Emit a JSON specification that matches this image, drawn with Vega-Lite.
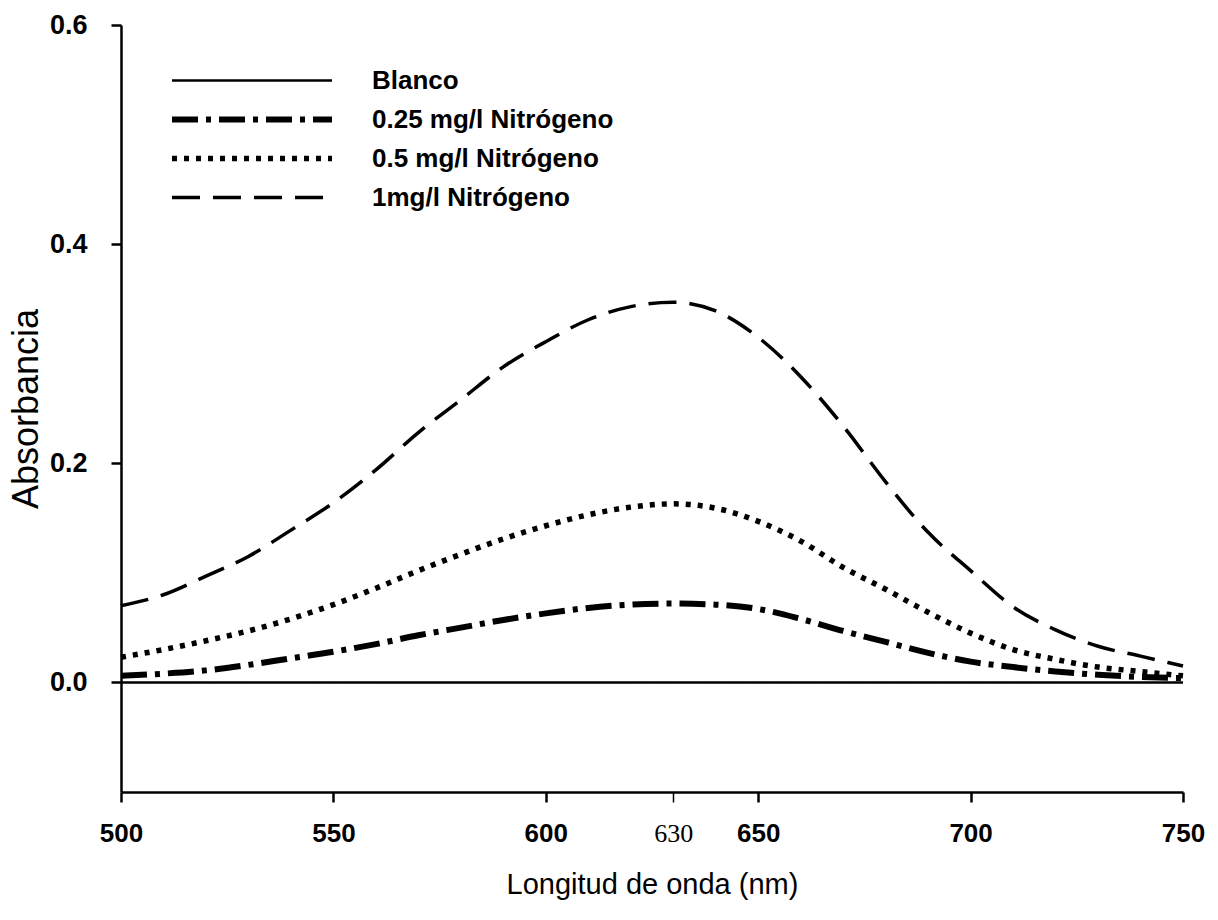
{
  "$schema": "https://vega.github.io/schema/vega-lite/v6.json",
  "width": 1062,
  "height": 767,
  "autosize": {"type": "none"},
  "padding": {"left": 121, "top": 25, "right": 35, "bottom": 128},
  "background": "white",
  "layer": [
    {
      "data": {"values": [
        {"wl": 500, "a": 0, "s": "Blanco"},
        {"wl": 550, "a": 0, "s": "Blanco"},
        {"wl": 600, "a": 0, "s": "Blanco"},
        {"wl": 650, "a": 0, "s": "Blanco"},
        {"wl": 700, "a": 0, "s": "Blanco"},
        {"wl": 750, "a": 0, "s": "Blanco"},
        {"wl": 500, "a": 0.006, "s": "0.25 mg/l Nitrógeno"},
        {"wl": 510, "a": 0.008, "s": "0.25 mg/l Nitrógeno"},
        {"wl": 520, "a": 0.011, "s": "0.25 mg/l Nitrógeno"},
        {"wl": 530, "a": 0.016, "s": "0.25 mg/l Nitrógeno"},
        {"wl": 540, "a": 0.022, "s": "0.25 mg/l Nitrógeno"},
        {"wl": 550, "a": 0.028, "s": "0.25 mg/l Nitrógeno"},
        {"wl": 560, "a": 0.035, "s": "0.25 mg/l Nitrógeno"},
        {"wl": 570, "a": 0.043, "s": "0.25 mg/l Nitrógeno"},
        {"wl": 580, "a": 0.050, "s": "0.25 mg/l Nitrógeno"},
        {"wl": 590, "a": 0.057, "s": "0.25 mg/l Nitrógeno"},
        {"wl": 600, "a": 0.063, "s": "0.25 mg/l Nitrógeno"},
        {"wl": 610, "a": 0.068, "s": "0.25 mg/l Nitrógeno"},
        {"wl": 620, "a": 0.071, "s": "0.25 mg/l Nitrógeno"},
        {"wl": 630, "a": 0.072, "s": "0.25 mg/l Nitrógeno"},
        {"wl": 640, "a": 0.071, "s": "0.25 mg/l Nitrógeno"},
        {"wl": 650, "a": 0.067, "s": "0.25 mg/l Nitrógeno"},
        {"wl": 660, "a": 0.058, "s": "0.25 mg/l Nitrógeno"},
        {"wl": 670, "a": 0.047, "s": "0.25 mg/l Nitrógeno"},
        {"wl": 680, "a": 0.037, "s": "0.25 mg/l Nitrógeno"},
        {"wl": 690, "a": 0.027, "s": "0.25 mg/l Nitrógeno"},
        {"wl": 700, "a": 0.019, "s": "0.25 mg/l Nitrógeno"},
        {"wl": 710, "a": 0.014, "s": "0.25 mg/l Nitrógeno"},
        {"wl": 720, "a": 0.010, "s": "0.25 mg/l Nitrógeno"},
        {"wl": 730, "a": 0.007, "s": "0.25 mg/l Nitrógeno"},
        {"wl": 740, "a": 0.005, "s": "0.25 mg/l Nitrógeno"},
        {"wl": 750, "a": 0.004, "s": "0.25 mg/l Nitrógeno"},
        {"wl": 500, "a": 0.023, "s": "0.5 mg/l Nitrógeno"},
        {"wl": 510, "a": 0.030, "s": "0.5 mg/l Nitrógeno"},
        {"wl": 520, "a": 0.038, "s": "0.5 mg/l Nitrógeno"},
        {"wl": 530, "a": 0.047, "s": "0.5 mg/l Nitrógeno"},
        {"wl": 540, "a": 0.058, "s": "0.5 mg/l Nitrógeno"},
        {"wl": 550, "a": 0.071, "s": "0.5 mg/l Nitrógeno"},
        {"wl": 560, "a": 0.086, "s": "0.5 mg/l Nitrógeno"},
        {"wl": 570, "a": 0.102, "s": "0.5 mg/l Nitrógeno"},
        {"wl": 580, "a": 0.117, "s": "0.5 mg/l Nitrógeno"},
        {"wl": 590, "a": 0.131, "s": "0.5 mg/l Nitrógeno"},
        {"wl": 600, "a": 0.143, "s": "0.5 mg/l Nitrógeno"},
        {"wl": 610, "a": 0.153, "s": "0.5 mg/l Nitrógeno"},
        {"wl": 620, "a": 0.160, "s": "0.5 mg/l Nitrógeno"},
        {"wl": 630, "a": 0.163, "s": "0.5 mg/l Nitrógeno"},
        {"wl": 640, "a": 0.159, "s": "0.5 mg/l Nitrógeno"},
        {"wl": 650, "a": 0.147, "s": "0.5 mg/l Nitrógeno"},
        {"wl": 660, "a": 0.129, "s": "0.5 mg/l Nitrógeno"},
        {"wl": 670, "a": 0.105, "s": "0.5 mg/l Nitrógeno"},
        {"wl": 680, "a": 0.085, "s": "0.5 mg/l Nitrógeno"},
        {"wl": 690, "a": 0.064, "s": "0.5 mg/l Nitrógeno"},
        {"wl": 700, "a": 0.045, "s": "0.5 mg/l Nitrógeno"},
        {"wl": 710, "a": 0.030, "s": "0.5 mg/l Nitrógeno"},
        {"wl": 720, "a": 0.021, "s": "0.5 mg/l Nitrógeno"},
        {"wl": 730, "a": 0.014, "s": "0.5 mg/l Nitrógeno"},
        {"wl": 740, "a": 0.010, "s": "0.5 mg/l Nitrógeno"},
        {"wl": 750, "a": 0.006, "s": "0.5 mg/l Nitrógeno"},
        {"wl": 500, "a": 0.070, "s": "1mg/l Nitrógeno"},
        {"wl": 510, "a": 0.080, "s": "1mg/l Nitrógeno"},
        {"wl": 520, "a": 0.097, "s": "1mg/l Nitrógeno"},
        {"wl": 530, "a": 0.115, "s": "1mg/l Nitrógeno"},
        {"wl": 540, "a": 0.139, "s": "1mg/l Nitrógeno"},
        {"wl": 550, "a": 0.164, "s": "1mg/l Nitrógeno"},
        {"wl": 560, "a": 0.194, "s": "1mg/l Nitrógeno"},
        {"wl": 570, "a": 0.228, "s": "1mg/l Nitrógeno"},
        {"wl": 580, "a": 0.258, "s": "1mg/l Nitrógeno"},
        {"wl": 590, "a": 0.288, "s": "1mg/l Nitrógeno"},
        {"wl": 600, "a": 0.311, "s": "1mg/l Nitrógeno"},
        {"wl": 610, "a": 0.331, "s": "1mg/l Nitrógeno"},
        {"wl": 620, "a": 0.343, "s": "1mg/l Nitrógeno"},
        {"wl": 630, "a": 0.347, "s": "1mg/l Nitrógeno"},
        {"wl": 640, "a": 0.339, "s": "1mg/l Nitrógeno"},
        {"wl": 650, "a": 0.315, "s": "1mg/l Nitrógeno"},
        {"wl": 660, "a": 0.279, "s": "1mg/l Nitrógeno"},
        {"wl": 670, "a": 0.234, "s": "1mg/l Nitrógeno"},
        {"wl": 680, "a": 0.183, "s": "1mg/l Nitrógeno"},
        {"wl": 690, "a": 0.137, "s": "1mg/l Nitrógeno"},
        {"wl": 700, "a": 0.102, "s": "1mg/l Nitrógeno"},
        {"wl": 710, "a": 0.069, "s": "1mg/l Nitrógeno"},
        {"wl": 720, "a": 0.048, "s": "1mg/l Nitrógeno"},
        {"wl": 730, "a": 0.033, "s": "1mg/l Nitrógeno"},
        {"wl": 740, "a": 0.024, "s": "1mg/l Nitrógeno"},
        {"wl": 750, "a": 0.015, "s": "1mg/l Nitrógeno"}
      ]},
      "mark": {"type": "line", "interpolate": "monotone", "strokeCap": "butt", "color": "black"},
      "encoding": {
        "x": {
          "field": "wl", "type": "quantitative",
          "scale": {"domain": [500, 750], "nice": false, "zero": false},
          "axis": {
            "title": "Longitud de onda (nm)",
            "values": [500, 550, 600, 630, 650, 700, 750],
            "format": "d",
            "labelFontSize": {"condition": {"test": "datum.value == 630", "value": 26}, "value": 26},
            "labelFont": {"condition": {"test": "datum.value == 630", "value": "Liberation Serif"}, "value": "Liberation Sans"},
            "labelFontWeight": {"condition": {"test": "datum.value == 630", "value": "normal"}, "value": "bold"},
            "tickWidth": {"condition": {"test": "datum.value == 630", "value": 1.5}, "value": 2.5},
            "labelPadding": 18,
            "labelFlush": false,
            "labelOverlap": false,
            "titleFontSize": 29,
            "titleFontWeight": "normal",
            "titlePadding": 24
          }
        },
        "y": {
          "field": "a", "type": "quantitative",
          "scale": {"domain": [-0.1, 0.6], "nice": false, "zero": false},
          "axis": {
            "title": "Absorbancia",
            "values": [0, 0.2, 0.4, 0.6],
            "format": ".1f",
            "labelFontSize": 27,
            "labelFontWeight": "bold",
            "labelPadding": 24,
            "labelFlush": false,
            "labelOverlap": false,
            "titleFontSize": 36,
            "titleFontWeight": "normal",
            "titlePadding": 4
          }
        },
        "strokeDash": {
          "field": "s", "type": "nominal",
          "scale": {"type": "ordinal", "domain": ["Blanco", "0.25 mg/l Nitrógeno", "0.5 mg/l Nitrógeno", "1mg/l Nitrógeno"], "range": [[1, 0], [26, 8, 5, 8], [5, 7], [28, 13]]},
          "legend": {"title": null}
        },
        "strokeWidth": {
          "field": "s", "type": "nominal",
          "scale": {"type": "ordinal", "domain": ["Blanco", "0.25 mg/l Nitrógeno", "0.5 mg/l Nitrógeno", "1mg/l Nitrógeno"], "range": [2.5, 6, 5.5, 3.5]},
          "legend": {"title": null}
        }
      }
    },
    {
      "mark": {"type": "rule", "color": "black", "strokeWidth": 1.5, "clip": false},
      "encoding": {"x": {"datum": 630}, "y": {"datum": 0.4}, "y2": {"datum": -0.115}}
    }
  ],
  "config": {
    "view": {"stroke": null},
    "font": "Liberation Sans",
    "axis": {"domainColor": "black", "domainWidth": 2.5, "tickColor": "black", "tickWidth": 2.5, "tickSize": 10, "labelColor": "black", "titleColor": "black", "grid": false, "labelFont": "Liberation Sans", "titleFont": "Liberation Sans"},
    "legend": {
      "orient": "none", "legendX": 48, "legendY": 37,
      "clipHeight": 37, "rowPadding": 2, "padding": 0,
      "symbolType": "stroke", "symbolSize": 25600, "symbolStrokeColor": "black", "symbolOffset": 0,
      "labelFont": "Liberation Sans", "labelFontSize": 26, "labelFontWeight": "bold", "labelColor": "black", "labelOffset": 37,
      "labelLimit": 400
    }
  }
}
